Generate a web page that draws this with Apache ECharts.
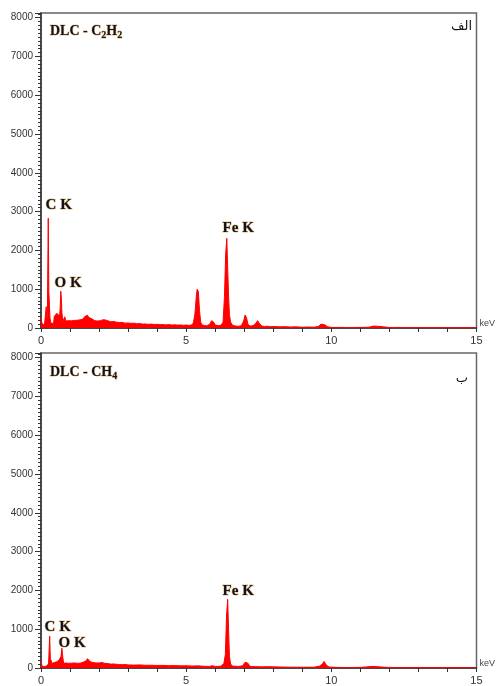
<!DOCTYPE html>
<html>
<head>
<meta charset="utf-8">
<script src="https://cdn.jsdelivr.net/npm/echarts@6/dist/echarts.min.js"></script>
<style>
  html, body { margin: 0; padding: 0; background: #fff; }
  #chart { width: 496px; height: 686px; }
</style>
</head>
<body>
<div id="chart"></div>
<script>
// axis ticks
let xTicks = [0, 5, 10, 15];
let yTicks = [0, 1000, 2000, 3000, 4000, 5000, 6000, 7000, 8000];

// panel A: DLC - C2H2 (energy keV / counts)
let energyA = [0.00, 0.03, 0.06, 0.09, 0.12, 0.15, 0.18, 0.20, 0.22, 0.25, 0.27, 0.29, 0.31, 0.34, 0.37, 0.40, 0.43, 0.46, 0.49, 0.52,
  0.55, 0.58, 0.61, 0.64, 0.66, 0.68, 0.70, 0.72, 0.75, 0.78, 0.82, 0.85, 0.90, 0.95, 1.00, 1.05, 1.10, 1.15, 1.20, 1.25,
  1.30, 1.35, 1.40, 1.45, 1.50, 1.55, 1.60, 1.65, 1.70, 1.75, 1.80, 1.85, 1.90, 1.95, 2.00, 2.05, 2.10, 2.15, 2.20, 2.25,
  2.30, 2.40, 2.50, 2.60, 2.70, 2.80, 2.90, 3.00, 3.10, 3.20, 3.30, 3.40, 3.50, 3.60, 3.70, 3.80, 3.90, 4.00, 4.10, 4.20,
  4.30, 4.40, 4.50, 4.60, 4.70, 4.80, 4.90, 5.00, 5.10, 5.20, 5.25, 5.30, 5.35, 5.38, 5.42, 5.46, 5.50, 5.55, 5.60, 5.70,
  5.80, 5.88, 5.95, 6.00, 6.10, 6.20, 6.27, 6.32, 6.36, 6.40, 6.43, 6.46, 6.49, 6.53, 6.60, 6.70, 6.80, 6.90, 6.98, 7.03,
  7.08, 7.13, 7.20, 7.30, 7.40, 7.46, 7.52, 7.60, 7.70, 7.80, 7.90, 8.00, 8.20, 8.40, 8.60, 8.80, 9.00, 9.20, 9.40, 9.55,
  9.65, 9.70, 9.78, 9.88, 10.0, 10.3, 10.6, 11.0, 11.3, 11.45, 11.6, 11.8, 12.0, 12.3, 12.6, 13.0, 13.4, 13.8, 14.2, 14.6, 15.0];
let countsA = [250, 120, 80, 90, 70, 100, 550, 200, 350, 2830, 940, 600, 250, 130, 120, 160, 110, 300, 320, 280,
  380, 330, 420, 300, 500, 950, 770, 400, 170, 160, 290, 180, 170, 190, 165, 185, 170, 195, 175, 200,
  180, 210, 260, 230, 290, 240, 330, 270, 300, 240, 220, 190, 200, 180, 210, 190, 205, 215, 185, 200,
  175, 160, 170, 150, 140, 145, 125, 130, 120, 125, 110, 115, 100, 105, 95, 100, 90, 95, 85, 90,
  80, 88, 78, 82, 75, 80, 70, 75, 68, 80, 140, 350, 820, 1000, 940, 450, 150, 80, 60, 55,
  90, 190, 150, 80, 60, 70, 150, 820, 1900, 2310, 1550, 830, 350, 150, 70, 50, 45, 60, 180, 335,
  260, 90, 50, 60, 120, 190, 120, 50, 40, 45, 35, 40, 30, 35, 25, 30, 20, 25, 20, 40,
  100, 120, 80, 30, 15, 15, 12, 15, 20, 50, 45, 30, 12, 15, 10, 12, 10, 12, 8, 10, 0];

// panel B: DLC - CH4
let energyB = [0.00, 0.03, 0.06, 0.10, 0.14, 0.18, 0.22, 0.26, 0.30, 0.32, 0.35, 0.38, 0.42, 0.46, 0.50, 0.54, 0.58, 0.62, 0.66, 0.69,
  0.72, 0.75, 0.78, 0.82, 0.86, 0.90, 0.95, 1.00, 1.05, 1.10, 1.15, 1.20, 1.25, 1.30, 1.35, 1.40, 1.45, 1.50, 1.55, 1.60,
  1.65, 1.70, 1.75, 1.80, 1.85, 1.90, 1.95, 2.00, 2.10, 2.20, 2.30, 2.40, 2.50, 2.60, 2.70, 2.80, 2.90, 3.00, 3.20, 3.40,
  3.60, 3.80, 4.00, 4.20, 4.40, 4.60, 4.80, 5.00, 5.20, 5.40, 5.60, 5.80, 5.90, 6.00, 6.20, 6.30, 6.35, 6.39, 6.43, 6.46,
  6.49, 6.53, 6.60, 6.80, 6.95, 7.03, 7.08, 7.13, 7.20, 7.40, 7.60, 7.80, 8.00, 8.30, 8.60, 9.00, 9.40, 9.60, 9.70, 9.75,
  9.82, 9.92, 10.2, 10.6, 11.0, 11.4, 11.6, 11.8, 12.2, 12.6, 13.0, 13.5, 14.0, 14.5, 15.0];
let countsB = [190, 60, 40, 30, 40, 50, 60, 100, 820, 250, 220, 120, 80, 140, 120, 160, 130, 200, 170, 300,
  510, 280, 120, 110, 130, 100, 120, 110, 125, 105, 130, 115, 120, 140, 125, 170, 150, 200, 180, 240,
  190, 160, 150, 140, 155, 130, 145, 130, 140, 120, 115, 100, 105, 95, 90, 85, 90, 80, 75, 80,
  70, 72, 65, 68, 60, 62, 55, 58, 50, 55, 45, 40, 60, 40, 45, 120, 350, 1340, 1770, 1000,
  300, 100, 50, 40, 60, 150, 200, 120, 40, 35, 30, 35, 30, 25, 20, 20, 20, 50, 110, 170,
  80, 25, 15, 12, 15, 40, 35, 20, 12, 10, 12, 10, 10, 8, 0];

let chart = echarts.init(document.getElementById('chart'));

let ink = '#10131f';
let halo = 'rgba(205,140,40,0.55)';
let serif = '"Liberation Serif", "DejaVu Serif", serif';

//grid for one panel
function makeGrid(top) {
    return { left: 41, top: top, width: 437, height: 315, show: true, borderColor: '#666', borderWidth: 1.5 };
}

function makeX(idx) {
    return {
        type: 'value', gridIndex: idx, min: xTicks[0], max: xTicks[xTicks.length - 1], interval: 1,
        name: 'keV', nameLocation: 'end', nameGap: 3,
        nameTextStyle: { fontSize: 9, color: '#444', fontFamily: 'Arial, "Liberation Sans", sans-serif', verticalAlign: 'bottom' },
        axisLine: { lineStyle: { color: '#333', width: 1.5 } },
        axisTick: { length: 4, lineStyle: { color: '#333' } },
        axisLabel: {
            fontSize: 11, color: '#333', margin: 7, fontFamily: 'Arial, "Liberation Sans", sans-serif',
            formatter: v => xTicks.indexOf(v) >= 0 ? String(v) : ''
        },
        splitLine: { show: false }
    };
}

function makeY(idx) {
    return {
        type: 'value', gridIndex: idx, min: 0, max: 8120, interval: 1000,
        axisLine: { show: true, lineStyle: { color: '#333', width: 1.5 } },
        axisTick: { show: true, length: 6, lineStyle: { color: '#333' } },
        minorTick: { show: true, splitNumber: 10, length: 3, lineStyle: { color: '#333' } },
        axisLabel: {
            fontSize: 10, color: '#333', margin: 8, fontFamily: 'Arial, "Liberation Sans", sans-serif',
            formatter: v => yTicks.indexOf(v) >= 0 ? String(v) : ''
        },
        splitLine: { show: false }
    };
}

function makeSeries(idx, energy, counts) {
    return {
        type: 'line', xAxisIndex: idx, yAxisIndex: idx,
        data: energy.map((e, i) => [e, counts[i]]),
        symbol: 'none',
        lineStyle: { color: '#ff0000', width: 1 },
        areaStyle: { color: '#ff0000', opacity: 1 },
        z: 1
    };
}

//bold serif label with faint orange halo
function peakText(x, y, txt) {
    return {
        type: 'text', left: x, top: y,
        style: { text: txt, fill: ink, font: 'bold 15px ' + serif, stroke: halo, lineWidth: 1.2 }
    };
}

let richTitle = {
    a: { fontSize: 14, fontWeight: 'bold', fontFamily: serif, color: ink, textBorderColor: halo, textBorderWidth: 1, lineHeight: 16, verticalAlign: 'bottom' },
    s: { fontSize: 10, fontWeight: 'bold', fontFamily: serif, color: ink, textBorderColor: halo, textBorderWidth: 1, lineHeight: 16, verticalAlign: 'bottom', padding: [0, 0, -2, 0] }
};

let option = {
    animation: false,
    backgroundColor: '#fff',
    title: [
        { left: 50, top: 22, padding: 0, text: '{a|DLC - C}{s|2}{a|H}{s|2}', textStyle: { rich: richTitle } },
        { left: 50, top: 363, padding: 0, text: '{a|DLC - CH}{s|4}', textStyle: { rich: richTitle } }
    ],
    grid: [makeGrid(13), makeGrid(353)],
    xAxis: [makeX(0), makeX(1)],
    yAxis: [makeY(0), makeY(1)],
    series: [makeSeries(0, energyA, countsA), makeSeries(1, energyB, countsB)],
    graphic: [
        peakText(45, 197, 'C K'),
        peakText(54, 275, 'O K'),
        peakText(222, 220, 'Fe K'),
        peakText(44, 619, 'C K'),
        peakText(58, 635, 'O K'),
        peakText(222, 583, 'Fe K'),
        { type: 'text', right: 24, top: 20, style: { text: 'الف', fill: '#111', font: '13px "DejaVu Sans", sans-serif' } },
        { type: 'text', right: 28, top: 372, style: { text: 'ب', fill: '#111', font: '13px "DejaVu Sans", sans-serif' } }
    ]
};

chart.setOption(option);
</script>
</body>
</html>
